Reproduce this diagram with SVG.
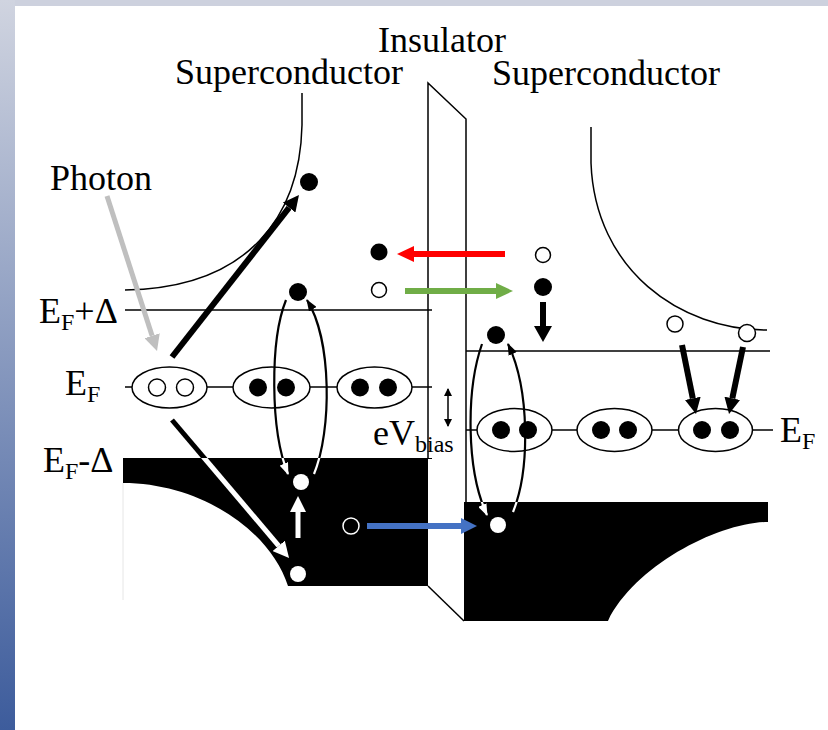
<svg xmlns="http://www.w3.org/2000/svg" width="828" height="730" viewBox="0 0 828 730">
<defs>
<linearGradient id="lg" x1="0" y1="0" x2="0" y2="1">
<stop offset="0" stop-color="#d0d4e0"/>
<stop offset="1" stop-color="#3d5c9c"/>
</linearGradient>
<style>
.t{font-family:"Liberation Serif","Times New Roman",serif;font-size:36px;fill:#000}
.sub{font-size:24px}
.thin{fill:none;stroke:#000;stroke-width:1.5}
.ell{fill:#fff;stroke:#000;stroke-width:1.5}
.bd{fill:#000}
.hc{fill:#fff;stroke:#000;stroke-width:1.5}
.wd{fill:#fff}
.loop{fill:none;stroke:#000;stroke-width:2.2}
.loopw{fill:none;stroke:#fff;stroke-width:2.2}
</style>
<marker id="hK" viewBox="0 0 16 16" refX="0" refY="8" markerWidth="16" markerHeight="16" markerUnits="userSpaceOnUse" orient="auto"><path d="M0,0 L16,8 L0,16 z" fill="#000"/></marker>
<marker id="hK18" viewBox="0 0 16 18" refX="0" refY="9" markerWidth="16" markerHeight="18" markerUnits="userSpaceOnUse" orient="auto"><path d="M0,0 L16,9 L0,18 z" fill="#000"/></marker>
<marker id="hW" viewBox="0 0 16 16" refX="0" refY="8" markerWidth="16" markerHeight="16" markerUnits="userSpaceOnUse" orient="auto"><path d="M0,0 L16,8 L0,16 z" fill="#fff"/></marker>
<marker id="hG" viewBox="0 0 16 16" refX="0" refY="8" markerWidth="16" markerHeight="16" markerUnits="userSpaceOnUse" orient="auto"><path d="M0,0 L16,8 L0,16 z" fill="#bfbfbf"/></marker>
<marker id="hR" viewBox="0 0 17 16" refX="0" refY="8" markerWidth="17" markerHeight="16" markerUnits="userSpaceOnUse" orient="auto"><path d="M0,0 L17,8 L0,16 z" fill="#ff0000"/></marker>
<marker id="hGr" viewBox="0 0 17 16" refX="0" refY="8" markerWidth="17" markerHeight="16" markerUnits="userSpaceOnUse" orient="auto"><path d="M0,0 L17,8 L0,16 z" fill="#70ad47"/></marker>
<marker id="hB" viewBox="0 0 16 16" refX="0" refY="8" markerWidth="16" markerHeight="16" markerUnits="userSpaceOnUse" orient="auto"><path d="M0,0 L16,8 L0,16 z" fill="#4472c4"/></marker>
<marker id="sK" viewBox="0 0 12 9" refX="11" refY="4.5" markerWidth="12" markerHeight="9" markerUnits="userSpaceOnUse" orient="auto"><path d="M0,0 L12,4.5 L0,9 z" fill="#000"/></marker>
<marker id="sW" viewBox="0 0 12 9" refX="11" refY="4.5" markerWidth="12" markerHeight="9" markerUnits="userSpaceOnUse" orient="auto"><path d="M0,0 L12,4.5 L0,9 z" fill="#fff"/></marker>
<marker id="dA" viewBox="0 0 8 8" refX="7" refY="4" markerWidth="8" markerHeight="8" markerUnits="userSpaceOnUse" orient="auto-start-reverse"><path d="M0,0 L8,4 L0,8 z" fill="#000"/></marker>
<clipPath id="blk">
<path d="M123,458 L428,458 L428,586 L288,586 C270,530 200,483 123,483 Z"/>
<path d="M464,502 L768,502 L768,522 C720,522 635,565 608,621 L464,621 Z"/>
</clipPath>
</defs>

<g id="background">
<rect width="828" height="730" fill="#fff"/>
<rect width="828" height="6" fill="#cdd1de"/>
<rect width="15" height="730" fill="url(#lg)"/>
</g>

<g id="bands">
<path d="M123,458 L432,458 L432,459 L428,459 L428,586 L288,586 C270,530 200,483 123,483 Z" fill="#000"/>
<path d="M464,502 L768,502 L768,522 C720,522 635,565 608,621 L464,621 Z" fill="#000"/>
<line x1="123" y1="483" x2="123" y2="600" stroke="#e6e6e6" stroke-width="1"/>
<path class="thin" d="M302,93 L302,125 C300,215 250,288 125,290"/>
<path class="thin" d="M591,127 L591,163 C595,270 680,330 767,330"/>
<line class="thin" x1="125" y1="310" x2="432" y2="310"/>
<line class="thin" x1="466" y1="351" x2="770" y2="351"/>
<line class="thin" x1="125" y1="387" x2="432" y2="387"/>
<line class="thin" x1="466" y1="430" x2="773" y2="430"/>
</g>

<g id="insulator">
<path class="thin" d="M428,458 L428,83 L466,119 L466,621"/>
<path class="thin" d="M428,586 L464,621"/>
</g>

<g id="pairs-left">
<ellipse class="ell" cx="169.5" cy="387.5" rx="37.5" ry="20.5"/>
<circle class="hc" cx="157" cy="387.5" r="8.5"/>
<circle class="hc" cx="185" cy="387.5" r="8.5"/>
<ellipse class="ell" cx="271.5" cy="387.5" rx="38.5" ry="20.5"/>
<circle class="bd" cx="258" cy="387.5" r="9"/>
<circle class="bd" cx="286" cy="387.5" r="9"/>
<ellipse class="ell" cx="374.5" cy="387.5" rx="37.5" ry="20.5"/>
<circle class="bd" cx="360" cy="387.5" r="9"/>
<circle class="bd" cx="388" cy="387.5" r="9"/>
</g>

<g id="pairs-right">
<ellipse class="ell" cx="514.5" cy="430" rx="37.5" ry="21.5"/>
<circle class="bd" cx="501" cy="430" r="9"/>
<circle class="bd" cx="528" cy="430" r="9"/>
<ellipse class="ell" cx="614.5" cy="430" rx="37.5" ry="21.5"/>
<circle class="bd" cx="601" cy="430" r="9"/>
<circle class="bd" cx="628" cy="430" r="9"/>
<ellipse class="ell" cx="715.5" cy="430" rx="37" ry="21.5"/>
<circle class="bd" cx="702" cy="430" r="9"/>
<circle class="bd" cx="730" cy="430" r="9"/>
</g>

<g id="particles">
<circle class="bd" cx="309" cy="182" r="9"/>
<circle class="bd" cx="298" cy="292" r="9"/>
<circle class="bd" cx="379" cy="252" r="8.5"/>
<circle class="hc" cx="379" cy="290" r="7.5"/>
<circle class="hc" cx="543" cy="255" r="7.5"/>
<circle class="bd" cx="543" cy="287" r="9"/>
<circle class="bd" cx="496" cy="335" r="9"/>
<circle class="hc" cx="675" cy="324" r="8"/>
<circle class="hc" cx="747" cy="333" r="8.5"/>
<circle class="wd" cx="301" cy="482" r="8"/>
<circle class="wd" cx="298" cy="574" r="8"/>
<circle fill="none" stroke="#fff" stroke-width="1.5" cx="351" cy="526" r="8"/>
<circle class="wd" cx="498" cy="525" r="8"/>
</g>

<g id="connectors">
<line x1="172" y1="357" x2="289.1" y2="207.6" stroke="#000" stroke-width="6" marker-end="url(#hK)"/>
<line x1="107" y1="196" x2="152.1" y2="335.8" stroke="#bfbfbf" stroke-width="5" marker-end="url(#hG)"/>
<line x1="172" y1="420" x2="278.7" y2="545.8" stroke="#000" stroke-width="5" marker-end="url(#hK)"/>
<line x1="298" y1="538" x2="298" y2="512" stroke="#fff" stroke-width="5" marker-end="url(#hW)"/>
<line x1="367" y1="526" x2="461" y2="526" stroke="#4472c4" stroke-width="6" marker-end="url(#hB)"/>
<line x1="505" y1="254" x2="414" y2="254" stroke="#ff0000" stroke-width="6" marker-end="url(#hR)"/>
<line x1="405" y1="291" x2="496" y2="291" stroke="#70ad47" stroke-width="6" marker-end="url(#hGr)"/>
<line x1="543" y1="302" x2="543" y2="326" stroke="#000" stroke-width="6" marker-end="url(#hK18)"/>
<line x1="682" y1="345" x2="692.8" y2="398.3" stroke="#000" stroke-width="6" marker-end="url(#hK)"/>
<line x1="743" y1="347" x2="732.3" y2="398.3" stroke="#000" stroke-width="6" marker-end="url(#hK)"/>
<path class="loop" d="M286,300 C270,340 270,430 288,474" marker-end="url(#sK)"/>
<path class="loop" d="M314,474 C332,430 332,340 307,300" marker-end="url(#sK)"/>
<path class="loop" d="M482,344 C466,390 466,470 487,515" marker-end="url(#sK)"/>
<path class="loop" d="M513,512 C530,470 530,390 508,344" marker-end="url(#sK)"/>
<line x1="448" y1="389" x2="448" y2="426" stroke="#000" stroke-width="1.5" marker-start="url(#dA)" marker-end="url(#dA)"/>
<g clip-path="url(#blk)">
<line x1="172" y1="420" x2="278.7" y2="545.8" stroke="#fff" stroke-width="5" marker-end="url(#hW)"/>
<path class="loopw" d="M286,300 C270,340 270,430 288,474" marker-end="url(#sW)"/>
<path class="loopw" d="M314,474 C332,430 332,340 307,300"/>
<path class="loopw" d="M482,344 C466,390 466,470 487,515" marker-end="url(#sW)"/>
<path class="loopw" d="M513,512 C530,470 530,390 508,344"/>
</g>
</g>

<g id="labels">
<text id="lbl-insulator" class="t" x="378" y="52">Insulator</text>
<text id="lbl-sc-left" class="t" x="175" y="84">Superconductor</text>
<text id="lbl-sc-right" class="t" x="492" y="85">Superconductor</text>
<text id="lbl-photon" class="t" x="50" y="190">Photon</text>
<text id="lbl-efpd" class="t" x="39" y="323">E<tspan class="sub" dy="7">F</tspan><tspan dy="-7">+Δ</tspan></text>
<text id="lbl-ef" class="t" x="65" y="395">E<tspan class="sub" dy="7">F</tspan></text>
<text id="lbl-efmd" class="t" x="43" y="472">E<tspan class="sub" dy="7">F</tspan><tspan dy="-7">-Δ</tspan></text>
<text id="lbl-ef-right" class="t" x="780" y="442">E<tspan class="sub" dy="7">F</tspan></text>
<text id="lbl-evbias" class="t" x="373" y="445">eV<tspan class="sub" dy="7">bias</tspan></text>
</g>
</svg>
